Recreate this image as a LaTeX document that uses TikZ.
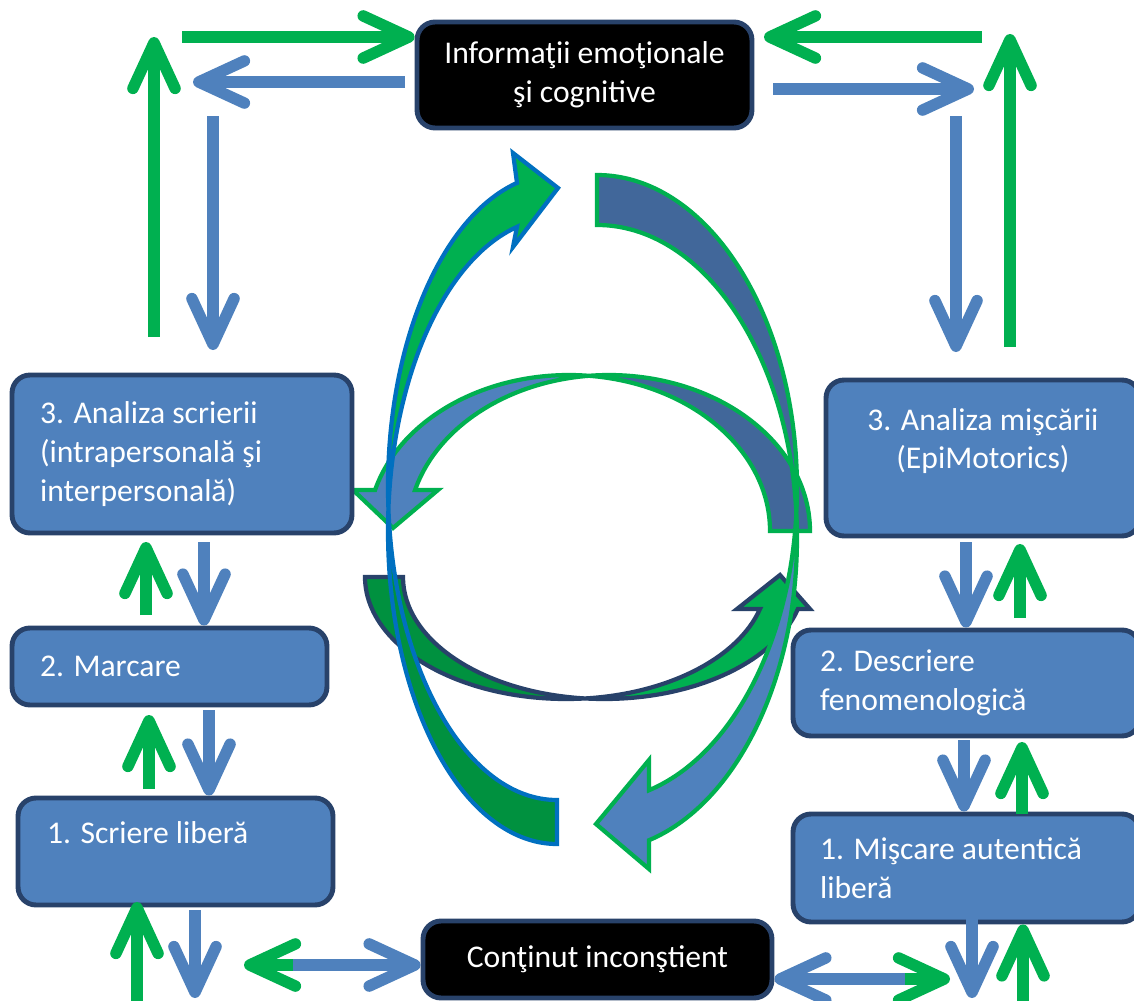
\documentclass[tikz,border=0pt]{standalone}
\usepackage{fontspec}
\setmainfont{Carlito}
\usetikzlibrary{arrows.meta,calc}
\definecolor{boxblue}{HTML}{4F81BD}
\definecolor{boxline}{HTML}{28426A}
\definecolor{arrgreen}{HTML}{00B050}
\definecolor{arrblue}{HTML}{4F81BD}
\definecolor{backgreen}{HTML}{00913F}
\definecolor{backblue}{HTML}{41679A}
\definecolor{edgeblue}{HTML}{0070C0}
\tikzset{
  box/.style={draw=boxline, line width=2.8pt, rounded corners=0.36cm, fill=boxblue,
    text=white, font=\fontsize{18}{22}\selectfont, inner sep=0pt},
  blackbox/.style={box, fill=black},
  greenarr/.style={draw=arrgreen, line width=6.5pt, -{Straight Barb[length=26pt,width=24pt,round]}},
  bluearr/.style={draw=arrblue, line width=6.5pt, -{Straight Barb[length=26pt,width=24pt,round]}},
  band/.style={line width=2.4pt, line join=miter}
}
\begin{document}
\begin{tikzpicture}[x=0.02cm,y=-0.02cm]
    \useasboundingbox (0,0) rectangle (1134,1001);
    \clip (0,0) rectangle (1134,1001);
    \coordinate (cLf) at (569,531);
    \coordinate (cRt) at (609,531);
    \coordinate (dLf) at (566,577);
    \coordinate (dRt) at (604,577);
    \coordinate (bU) at (597,488);
    \coordinate (bL) at (597,538);
    \coordinate (aU) at (557,487);
    \coordinate (aL) at (557,531);
    \filldraw [band, draw=arrgreen, fill=backblue] ($(cRt)+(264.3:201 and 156)$) arc[start angle=264.3, end angle=360, x radius=201, y radius=156]
      -- ($(cLf)+(0:201 and 156)$) arc[start angle=360, end angle=275.7, x radius=201, y radius=156] -- cycle;
    \filldraw [band, draw=arrgreen, fill=boxblue] ($(cLf)+(195.2:201 and 156)$) arc[start angle=195.2, end angle=275.7, x radius=201, y radius=156]
      -- ($(cRt)+(264.3:201 and 156)$) arc[start angle=264.3, end angle=195.2, x radius=201, y radius=156]
      -- (438,490) -- (393,528) -- (353,490) -- cycle;
    \filldraw [band, draw=boxline, fill=backgreen] ($(dLf)+(180:201 and 122)$) arc[start angle=180, end angle=84.6, x radius=201, y radius=122]
      -- ($(dRt)+(95.4:201 and 122)$) arc[start angle=95.4, end angle=180, x radius=201, y radius=122] -- cycle;
    \filldraw [band, draw=boxline, fill=arrgreen] ($(dRt)+(95.4:201 and 122)$) arc[start angle=95.4, end angle=15.2, x radius=201, y radius=122]
      -- (810,609) -- (780,575) -- (737,609)
      -- ($(dLf)+(15.2:201 and 122)$) arc[start angle=15.2, end angle=84.6, x radius=201, y radius=122] -- cycle;
    \filldraw [band, draw=arrgreen, fill=backblue] ($(bU)+(-90:200 and 313)$) arc[start angle=-90, end angle=4.58, x radius=200, y radius=313]
      -- ($(bL)+(-4.58:200 and 313)$) arc[start angle=-4.58, end angle=-90, x radius=200, y radius=313] -- cycle;
    \filldraw [band, draw=arrgreen, fill=boxblue] ($(bL)+(-4.58:200 and 313)$) arc[start angle=-4.58, end angle=74.9, x radius=200, y radius=313]
      -- (649,869) -- (596,824) -- (649,760)
      -- ($(bU)+(74.9:200 and 313)$) arc[start angle=74.9, end angle=4.58, x radius=200, y radius=313] -- cycle;
    \filldraw [band, draw=edgeblue, fill=backgreen] ($(aL)+(184.03:169 and 313)$) arc[start angle=184.03, end angle=90, x radius=169, y radius=313]
      -- ($(aU)+(90:169 and 313)$) arc[start angle=90, end angle=175.97, x radius=169, y radius=313] -- cycle;
    \filldraw [band, draw=edgeblue, fill=arrgreen] ($(aU)+(256.3:169 and 313)$) arc[start angle=256.3, end angle=175.97, x radius=169, y radius=313]
      -- ($(aL)+(184.03:169 and 313)$) arc[start angle=184.03, end angle=256.3, x radius=169, y radius=313]
      -- (513,247) -- (558,188) -- (513,153) -- cycle;
    \node [blackbox, minimum width=6.7cm, minimum height=2.12cm, align=center] (info) at (584.5,75) {Informaţii emoţionale\\şi cognitive};
    \node [blackbox, minimum width=6.98cm, minimum height=1.54cm, align=center] (uncon) at (597.5,959.5) {Conţinut inconştient};
    \node [box, minimum width=6.8cm, minimum height=3.16cm, text width=5.68cm, align=flush left] (ws3) at (182,454) {3. Analiza scrierii\\(intrapersonală şi\\interpersonală)};
    \node [box, minimum width=6.3cm, minimum height=1.54cm, text width=5.18cm, align=flush left] (ws2) at (169.5,666.5) {2. Marcare};
    \node [box, minimum width=6.3cm, minimum height=2.14cm, text width=5.14cm, align=flush left] (ws1) at (175.5,851.5) {1. Scriere liberă\\\mbox{}};
    \node [box, minimum width=6.28cm, minimum height=3.12cm, align=center] (ms3) at (983,458) {3. Analiza mişcării\\(EpiMotorics)\\\mbox{}};
    \node [box, minimum width=6.94cm, minimum height=2.12cm, text width=5.86cm, align=flush left] (ms2) at (966.5,683) {2. Descriere\\fenomenologică};
    \node [box, minimum width=6.94cm, minimum height=2.16cm, text width=5.86cm, align=flush left] (ms1) at (966.5,868) {1. Mişcare autentică\\liberă};
    \coordinate (tlg) at (182,37);
    \coordinate (tlb1) at (405,82);
    \coordinate (tlb2) at (193,82);
    \coordinate (tlup1) at (154,337);
    \coordinate (tlup2) at (154,37);
    \coordinate (tldn1) at (213,116);
    \coordinate (tldn2) at (213,350);
    \coordinate (trg1) at (982,37);
    \coordinate (trg2) at (764,37);
    \coordinate (trb1) at (773,89);
    \coordinate (trb2) at (974,89);
    \coordinate (trdn1) at (956,116);
    \coordinate (trdn2) at (956,352);
    \coordinate (trup1) at (1010,347);
    \coordinate (trup2) at (1010,34);
    \coordinate (l1) at (146,615);
    \coordinate (l2) at (146,542);
    \coordinate (l3) at (204,542);
    \coordinate (l4) at (149,789);
    \coordinate (l5) at (149,715);
    \coordinate (l6) at (209,710);
    \coordinate (l7) at (137,1001);
    \coordinate (l8) at (137,902);
    \coordinate (l9) at (195,910);
    \coordinate (l10) at (195,998);
    \coordinate (l11) at (293,965);
    \coordinate (l12) at (244,965);
    \coordinate (r1) at (966,542);
    \coordinate (r2) at (1020,618);
    \coordinate (r3) at (1020,544);
    \coordinate (r4) at (964,740);
    \coordinate (r5) at (1022,814);
    \coordinate (r6) at (1022,742);
    \coordinate (r7) at (972,908);
    \coordinate (r8) at (972,998);
    \coordinate (r9) at (1023,1001);
    \coordinate (r10) at (905,979);
    \coordinate (r12) at (950,979);
    \draw [greenarr] (tlg) -- (tlg -| info.west);
    \draw [bluearr] (tlb1) -- (tlb2);
    \draw [greenarr] (tlup1) -- (tlup2);
    \draw [bluearr] (tldn1) -- (tldn2);
    \draw [greenarr] (trg1) -- (trg2);
    \draw [bluearr] (trb1) -- (trb2);
    \draw [bluearr] (trdn1) -- (trdn2);
    \draw [greenarr] (trup1) -- (trup2);
    \draw [greenarr] (l1) -- (l2);
    \draw [bluearr] (l3) -- (l3 |- ws2.north);
    \draw [greenarr] (l4) -- (l5);
    \draw [bluearr] (l6) -- (l6 |- ws1.north);
    \draw [greenarr] (l7) -- (l8);
    \draw [bluearr] (l9) -- (l10);
    \draw [greenarr] (l11) -- (l12);
    \draw [bluearr] (l11) -- (l11 -| uncon.west);
    \draw [bluearr] (r1) -- (r1 |- ms2.north);
    \draw [greenarr] (r2) -- (r3);
    \draw [bluearr] (r4) -- (r4 |- ms1.north);
    \draw [greenarr] (r5) -- (r6);
    \draw [bluearr] (r7) -- (r8);
    \draw [greenarr] (r9) -- (r9 |- ms1.south);
    \draw [bluearr] (r10) -- (r10 -| uncon.east);
    \draw [greenarr] (r10) -- (r12);
\end{tikzpicture}
\end{document}
